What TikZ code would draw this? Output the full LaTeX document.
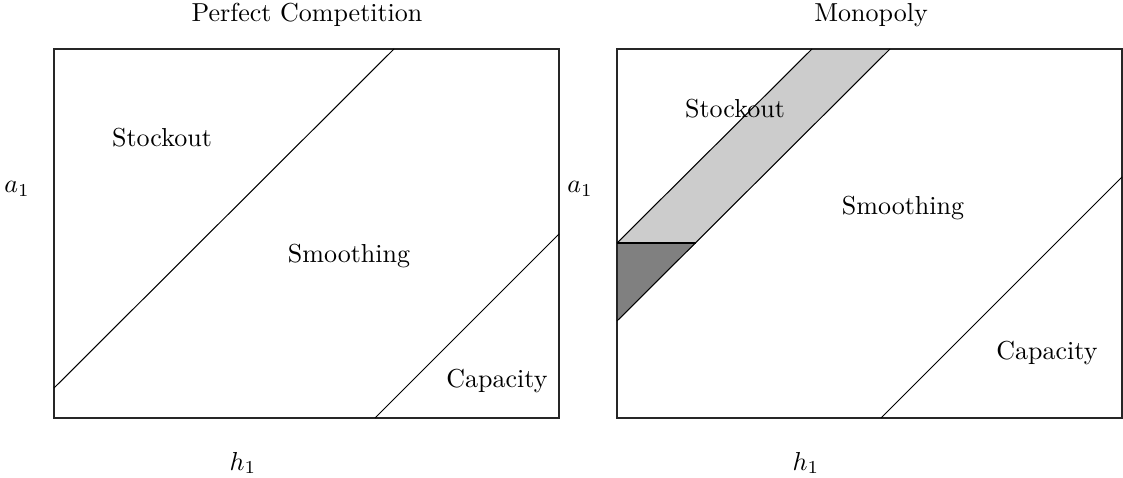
\documentclass[tikz,border=0pt]{standalone}
\begin{document}
\begin{tikzpicture}[x=0.3846pt,y=-0.3846pt,
  frame/.style={draw=black!85,line width=0.4pt},
  bound/.style={draw=black,line width=0.4pt},
  lbl/.style={inner sep=0pt,font=\normalsize}]
\useasboundingbox (0,0) rectangle (1123,478);
% ---------- left panel: Perfect Competition ----------
\node[lbl] (t1) at (307,15) {Perfect Competition};
\draw[frame] (54,49) rectangle (559,418);
\draw[bound] (54,388) -- (394,49);
\draw[bound] (375,418) -- (559,234);
\node[lbl] (so1) at (162,138) {Stockout};
\node[lbl] (sm1) at (349,256) {Smoothing};
\node[lbl] (ca1) at (497,381) {Capacity};
\node[lbl] (a1l) at (17,189) {$a_1$};
\node[lbl] (h1l) at (243,463) {$h_1$};
% ---------- right panel: Monopoly ----------
\node[lbl] (t2) at (871,15) {Monopoly};
\fill[gray!40] (617,243) -- (812,49) -- (890,49) -- (696,243) -- cycle;
\fill[gray] (617,243) -- (696,243) -- (617,321) -- cycle;
\draw[frame] (617,49) rectangle (1122,418);
\draw[bound] (617,243) -- (812,49);
\draw[bound] (617,321) -- (890,49);
\draw[bound] (617,243) -- (696,243);
\draw[bound] (881,418) -- (1122,177);
\node[lbl] (so2) at (735,109) {Stockout};
\node[lbl] (sm2) at (903,208) {Smoothing};
\node[lbl] (ca2) at (1047,353) {Capacity};
\node[lbl] (a1r) at (580,189) {$a_1$};
\node[lbl] (h1r) at (806,463) {$h_1$};
\end{tikzpicture}
\end{document}
